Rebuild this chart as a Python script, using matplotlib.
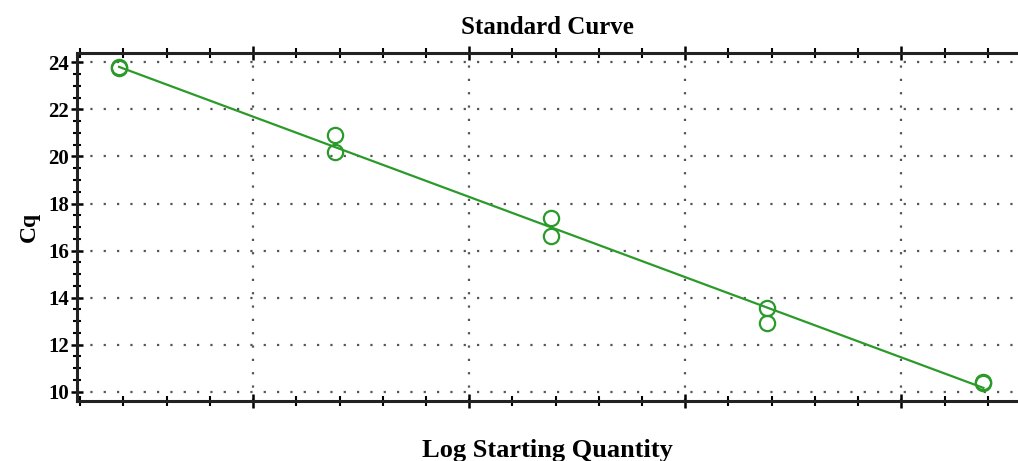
import numpy as np
import matplotlib
matplotlib.use("Agg")
import matplotlib.pyplot as plt
from matplotlib.ticker import MultipleLocator, NullFormatter

# Data (log starting quantity, Cq replicates)
log_qty = [1.38, 1.38, 2.38, 2.38, 3.38, 3.38, 4.38, 4.38, 5.38, 5.38]
cq = [23.75, 23.8, 20.9, 20.2, 17.4, 16.6, 13.55, 12.9, 10.4, 10.35]
y_ticks = [10, 12, 14, 16, 18, 20, 22, 24]

green = "#2a9a2a"
serif = ["Liberation Serif", "DejaVu Serif"]

fig = plt.figure(figsize=(10.18, 4.61), dpi=100)
ax = fig.add_axes([0.0756, 0.130, 0.9244, 0.755])

# regression line from data
x = np.array(log_qty)
y = np.array(cq)
slope, intercept = np.polyfit(x, y, 1)
xl = np.array([x.min(), x.max()])
ax.plot(xl, slope * xl + intercept, color=green, lw=1.6, zorder=3)
ax.plot(x, y, linestyle="none", marker="o", markersize=11, markerfacecolor="none",
        markeredgecolor=green, markeredgewidth=1.6, zorder=4)

ax.set_xlim(1.185, 5.54)
ax.set_ylim(9.6, 24.4)
ax.set_yticks(y_ticks)
ax.xaxis.set_major_locator(MultipleLocator(1))
ax.xaxis.set_minor_locator(MultipleLocator(0.2))
ax.yaxis.set_minor_locator(MultipleLocator(0.5))
ax.xaxis.set_major_formatter(NullFormatter())

ax.grid(True, which="major", color="#555555", linestyle=(0, (1, 5)), linewidth=1.6)

for side in ["left", "bottom", "top"]:
    ax.spines[side].set_linewidth(2.2)
    ax.spines[side].set_color("#222222")
ax.spines["right"].set_visible(False)

ax.tick_params(axis="y", which="major", direction="inout", length=9, width=1.8, pad=1)
ax.tick_params(axis="y", which="minor", direction="inout", length=6, width=1.5)
ax.tick_params(axis="x", which="major", direction="inout", length=10, width=1.8, top=True)
ax.tick_params(axis="x", which="minor", direction="inout", length=7, width=1.5, top=True)

for lab in ax.get_yticklabels():
    lab.set_fontfamily(serif)
    lab.set_fontweight("bold")
    lab.set_fontsize(15)

ax.set_title("Standard Curve", family=serif, fontweight="bold", fontsize=18, pad=14)
ax.set_ylabel("Cq", family=serif, fontweight="bold", fontsize=17, labelpad=6)
ax.set_xlabel("Log Starting Quantity", family=serif, fontweight="bold", fontsize=19, labelpad=19)

fig.savefig("out.png", dpi=100)
